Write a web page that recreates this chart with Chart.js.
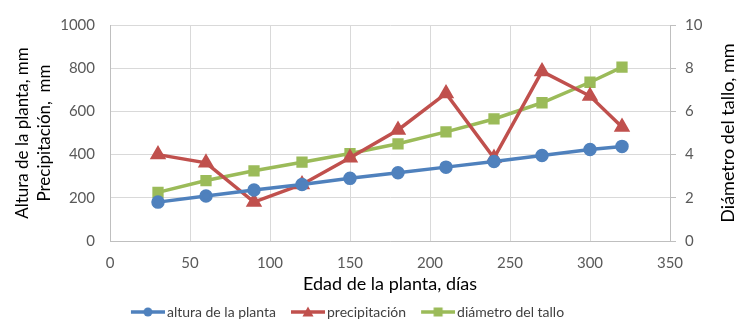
<!DOCTYPE html>
<html>
<head>
<meta charset="utf-8">
<script src="https://cdn.jsdelivr.net/npm/chart.js@4"></script>
<style>
  html, body { margin: 0; padding: 0; background: #fff; }
  #wrap { width: 750px; height: 335px; }
</style>
</head>
<body>
<div id="wrap"><canvas id="chart"></canvas></div>
<script>
const dias = [30, 60, 90, 120, 150, 180, 210, 240, 270, 300, 320];
const altura = [180, 208, 236, 262, 290, 316, 342, 368, 396, 424, 438];
const precipitacion = [400, 362, 180, 262, 385, 514, 683, 384, 785, 671, 528];
const diametro = [2.25, 2.8, 3.25, 3.65, 4.05, 4.5, 5.05, 5.65, 6.4, 7.35, 8.05];

const azul = "#4f81bd";
const rojo = "#c0504d";
const verde = "#9bbb59";
const fuente = "Lato, 'Open Sans', sans-serif";
const tituloDerecho = "Diámetro del tallo, mm";

function pts(ys) {
  return dias.map((x, i) => ({ x: x, y: ys[i] }));
}

// little line + marker picture for the legend (drawn a bit to the right so the text sits close)
function muestra(color, forma) {
  const c = document.createElement("canvas");
  c.width = 44; c.height = 14;
  const g = c.getContext("2d");
  g.strokeStyle = color;
  g.fillStyle = color;
  g.lineWidth = 3.5;
  g.beginPath(); g.moveTo(10, 7); g.lineTo(44, 7); g.stroke();
  g.beginPath();
  if (forma === "circle") g.arc(27, 7, 4.5, 0, Math.PI * 2);
  else if (forma === "triangle") { g.moveTo(27, 1.5); g.lineTo(32.5, 11.5); g.lineTo(21.5, 11.5); g.closePath(); }
  else g.rect(22.5, 2.5, 9, 9);
  g.fill();
  return c;
}

// right axis title, read bottom to top like the left one
const tituloY2 = {
  id: "tituloY2",
  afterLayout(chart) {
    // the legend sits left of centre in the original
    chart.legend.left -= 30;
    chart.legend.right -= 30;
  },
  afterDraw(chart) {
    const ctx = chart.ctx;
    const a = chart.chartArea;
    ctx.save();
    ctx.translate(728, (a.top + a.bottom) / 2);
    ctx.rotate(-Math.PI / 2);
    ctx.fillStyle = "#000";
    ctx.font = "18px " + fuente;
    ctx.textAlign = "center";
    ctx.textBaseline = "middle";
    ctx.fillText(tituloDerecho, 0, 0);
    ctx.restore();
  }
};

new Chart(document.getElementById("chart"), {
  type: "line",
  data: {
    datasets: [{
      label: "altura de la planta",
      data: pts(altura),
      yAxisID: "y",
      borderColor: azul,
      backgroundColor: azul,
      borderWidth: 3.5,
      pointStyle: "circle",
      pointRadius: 5,
      tension: 0,
      legendImg: muestra(azul, "circle")
    }, {
      label: "precipitación",
      data: pts(precipitacion),
      yAxisID: "y",
      borderColor: rojo,
      backgroundColor: rojo,
      borderWidth: 3.5,
      pointStyle: "triangle",
      pointRadius: 6,
      tension: 0,
      legendImg: muestra(rojo, "triangle")
    }, {
      label: "diámetro del tallo",
      data: pts(diametro),
      yAxisID: "y2",
      borderColor: verde,
      backgroundColor: verde,
      borderWidth: 3.5,
      pointStyle: "rect",
      pointRadius: 5.5,
      tension: 0,
      legendImg: muestra(verde, "rect")
    }]
  },
  plugins: [tituloY2],
  options: {
    responsive: true,
    maintainAspectRatio: false,
    animation: false,
    layout: { padding: { top: 25, left: 0, right: 0, bottom: 6 } },
    plugins: {
      tooltip: { enabled: false },
      legend: {
        position: "bottom",
        labels: {
          usePointStyle: true,
          pointStyleWidth: 34,
          padding: 10,
          color: "#404040",
          font: { family: fuente, size: 14 },
          generateLabels: (chart) => chart.data.datasets.map((d, i) => ({
            text: d.label,
            pointStyle: d.legendImg,
            fontColor: "#404040",
            lineWidth: 0,
            strokeStyle: "transparent",
            fillStyle: "transparent",
            datasetIndex: i
          }))
        }
      }
    },
    scales: {
      x: {
        type: "linear",
        min: 0, max: 350,
        afterFit: (s) => { s.height = 54; },
        ticks: { stepSize: 50, color: "#595959", font: { family: fuente, size: 15 }, padding: 13 },
        grid: { color: "#d9d9d9", drawTicks: false },
        border: { color: "#bfbfbf" },
        title: { display: true, text: "Edad de la planta, días", color: "#000", font: { family: fuente, size: 18 }, padding: { top: 0, bottom: 0 } }
      },
      y: {
        position: "left",
        min: 0, max: 1000,
        afterFit: (s) => { s.width = 110; },
        ticks: { stepSize: 200, color: "#595959", font: { family: fuente, size: 15 }, padding: 15, callback: (v) => String(v) },
        grid: { color: "#d9d9d9", drawTicks: false },
        border: { color: "#bfbfbf" },
        title: { display: true, text: ["Altura de la planta, mm", "Precipitación,  mm"], color: "#000", font: { family: fuente, size: 17, lineHeight: 1.3 }, padding: { top: 11, bottom: 0 } }
      },
      y2: {
        position: "right",
        min: 0, max: 10,
        afterFit: (s) => { s.width = 80; },
        ticks: { stepSize: 2, color: "#595959", font: { family: fuente, size: 15 }, padding: 9 },
        grid: { drawOnChartArea: false, color: "#bfbfbf", tickLength: 6 },
        border: { color: "#bfbfbf" }
      }
    }
  }
});
</script>
</body>
</html>
